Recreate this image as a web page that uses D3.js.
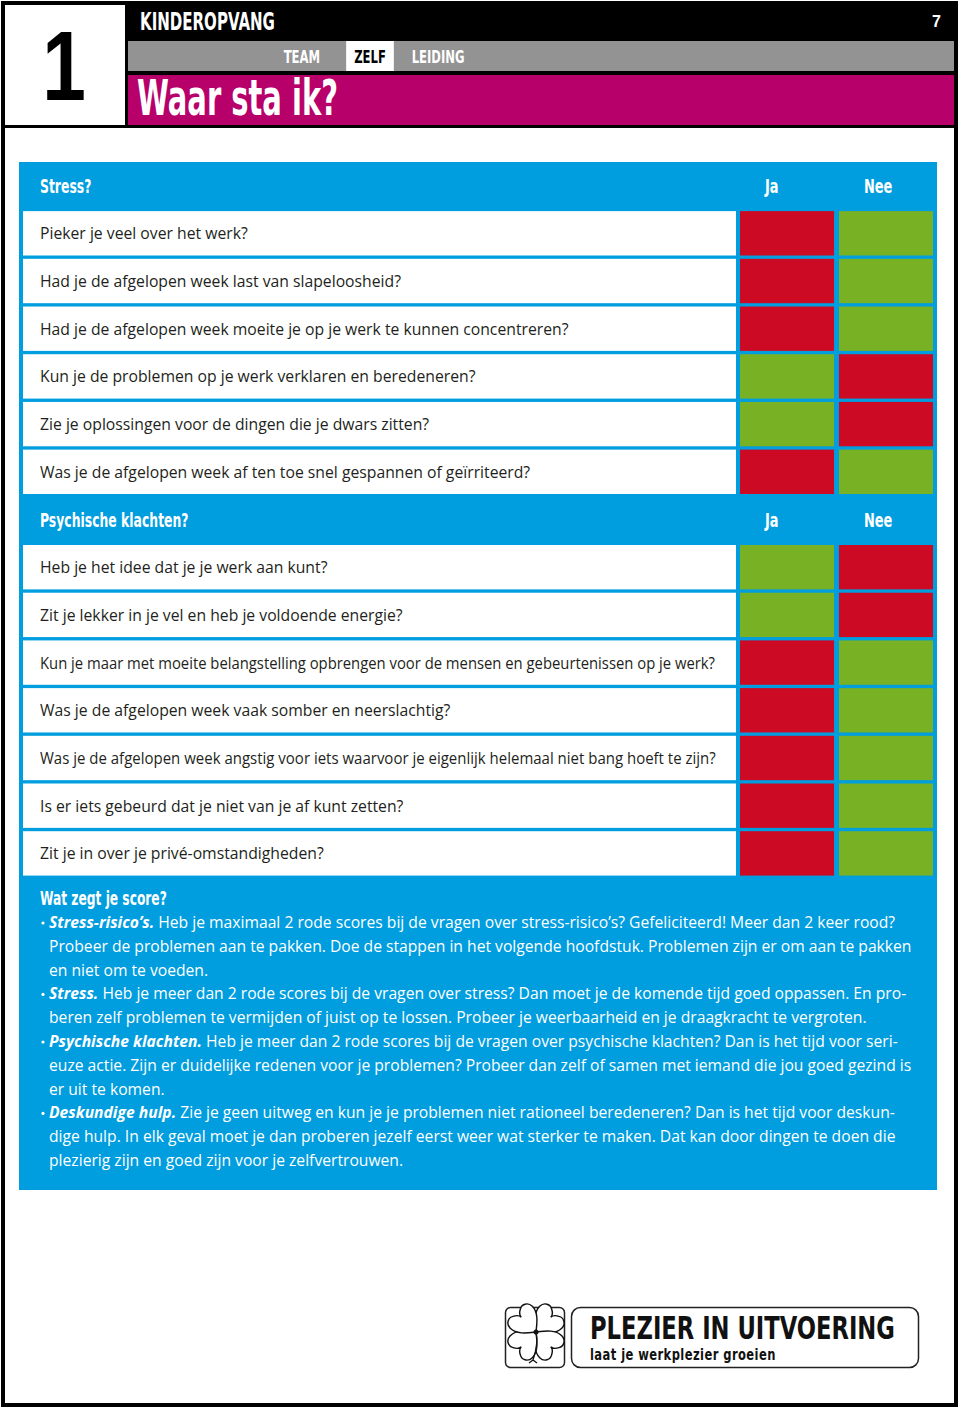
<!DOCTYPE html>
<html>
<head>
<meta charset="utf-8">
<script src="https://cdn.jsdelivr.net/npm/d3@7"></script>
<style>
body { margin: 0; background: #fff; }
svg { display: block; }
</style>
</head>
<body>
<svg id="page" width="960" height="1411"></svg>
<script>
/* global d3 */

// --- data ---
const chapterNumber = '1';
const pageNumber = '7';
const sectorTitle = 'KINDEROPVANG';
const pageTitle = 'Waar sta ik?';
const tabs = ['TEAM', 'ZELF', 'LEIDING'];
const activeTab = 'ZELF';
const answerLabels = ['Ja', 'Nee'];

const stressTitle = 'Stress?';
const stressQuestions = [
	'Pieker je veel over het werk?',
	'Had je de afgelopen week last van slapeloosheid?',
	'Had je de afgelopen week moeite je op je werk te kunnen concentreren?',
	'Kun je de problemen op je werk verklaren en beredeneren?',
	'Zie je oplossingen voor de dingen die je dwars zitten?',
	'Was je de afgelopen week af ten toe snel gespannen of geïrriteerd?',
];
// which answer is the red one
const stressRed = ['Ja', 'Ja', 'Ja', 'Nee', 'Nee', 'Ja'];

const psychTitle = 'Psychische klachten?';
const psychQuestions = [
	'Heb je het idee dat je je werk aan kunt?',
	'Zit je lekker in je vel en heb je voldoende energie?',
	'Kun je maar met moeite belangstelling opbrengen voor de mensen en gebeurtenissen op je werk?',
	'Was je de afgelopen week vaak somber en neerslachtig?',
	'Was je de afgelopen week angstig voor iets waarvoor je eigenlijk helemaal niet bang hoeft te zijn?',
	'Is er iets gebeurd dat je niet van je af kunt zetten?',
	'Zit je in over je privé-omstandigheden?',
];
const psychRed = ['Nee', 'Nee', 'Ja', 'Ja', 'Ja', 'Ja', 'Ja'];

const scoreTitle = 'Wat zegt je score?';
const scoreLines = [
	['Stress-risico’s.', ' Heb je maximaal 2 rode scores bij de vragen over stress-risico’s? Gefeliciteerd! Meer dan 2 keer rood?'],
	['', 'Probeer de problemen aan te pakken. Doe de stappen in het volgende hoofdstuk. Problemen zijn er om aan te pakken'],
	['', 'en niet om te voeden.'],
	['Stress.', ' Heb je meer dan 2 rode scores bij de vragen over stress? Dan moet je de komende tijd goed oppassen. En pro-'],
	['', 'beren zelf problemen te vermijden of juist op te lossen. Probeer je weerbaarheid en je draagkracht te vergroten.'],
	['Psychische klachten.', ' Heb je meer dan 2 rode scores bij de vragen over psychische klachten? Dan is het tijd voor seri-'],
	['', 'euze actie. Zijn er duidelijke redenen voor je problemen? Probeer dan zelf of samen met iemand die jou goed gezind is'],
	['', 'er uit te komen.'],
	['Deskundige hulp.', ' Zie je geen uitweg en kun je je problemen niet rationeel beredeneren? Dan is het tijd voor deskun-'],
	['', 'dige hulp. In elk geval moet je dan proberen jezelf eerst weer wat sterker te maken. Dat kan door dingen te doen die'],
	['', 'plezierig zijn en goed zijn voor je zelfvertrouwen.'],
];

const logoTitle = 'PLEZIER IN UITVOERING';
const logoSub = 'laat je werkplezier groeien';

// --- styles ---
const colors = {
	blue: '#009ddf',
	red: '#cc0a24',
	green: '#78b123',
	magenta: '#b7006a',
	grey: '#939393',
	ink: '#231f20',
};
const condensed = "'Liberation Sans Narrow', 'DejaVu Sans Condensed', 'Arial Narrow', sans-serif";
const bodyFont = "'Open Sans', 'Noto Sans', sans-serif";

const svg = d3.select('#page');

// squeeze a text horizontally to a width (condensed look)
function fit(sel, x, yPos, w) {
	const k = w / sel.node().getComputedTextLength();
	sel.attr('transform', `translate(${x},${yPos}) scale(${k},1)`);
	return sel;
}

// --- page frame + header ---
svg.append('rect')
	.attr('x', 3).attr('y', 3)
	.attr('width', 953).attr('height', 1402)
	.attr('fill', '#fff')
	.attr('stroke', '#000')
	.attr('stroke-width', 4);

svg.append('rect')
	.attr('x', 1).attr('y', 2)
	.attr('width', 957).attr('height', 126)
	.attr('fill', '#000');

svg.append('rect')
	.attr('x', 5).attr('y', 5)
	.attr('width', 120).attr('height', 120)
	.attr('fill', '#fff');

svg.append('text')
	.attr('font-family', "'Liberation Sans', Arial, sans-serif")
	.attr('font-weight', 'bold')
	.attr('font-size', 98)
	.attr('fill', '#000')
	.attr('text-anchor', 'middle')
	.attr('transform', 'translate(64,100) scale(0.8,1)')
	.text(chapterNumber);

fit(svg.append('text')
	.attr('font-family', condensed)
	.attr('font-weight', 'bold')
	.attr('font-size', 25)
	.attr('fill', '#fff')
	.text(sectorTitle), 140, 30, 135);

svg.append('text')
	.attr('x', 941).attr('y', 27)
	.attr('text-anchor', 'end')
	.attr('font-family', "'Liberation Sans', Arial, sans-serif")
	.attr('font-weight', 'bold')
	.attr('font-size', 16)
	.attr('fill', '#fff')
	.text(pageNumber);

svg.append('rect')
	.attr('x', 128).attr('y', 41)
	.attr('width', 826).attr('height', 30)
	.attr('fill', colors.grey);

const tabX = d3.scaleBand()
	.domain(tabs)
	.range([278, 462])
	.paddingInner(0.3);

const tab = svg.selectAll('.tab')
	.data(tabs)
	.enter().append('g')
	.attr('class', 'tab');

tab.filter(d => d === activeTab).append('rect')
	.attr('x', d => tabX(d))
	.attr('y', 41)
	.attr('width', tabX.bandwidth())
	.attr('height', 30)
	.attr('fill', '#fff');

tab.append('text')
	.attr('text-anchor', 'middle')
	.attr('font-family', condensed)
	.attr('font-weight', 'bold')
	.attr('font-size', 17)
	.attr('fill', d => d === activeTab ? '#000' : '#fff')
	.attr('transform', d => `translate(${tabX(d) + tabX.bandwidth() / 2},62.5) scale(0.76,1)`)
	.text(d => d);

svg.append('rect')
	.attr('x', 128).attr('y', 75)
	.attr('width', 826).attr('height', 50)
	.attr('fill', colors.magenta);

fit(svg.append('text')
	.attr('font-family', condensed)
	.attr('font-weight', 'bold')
	.attr('font-size', 49)
	.attr('fill', '#fff')
	.text(pageTitle), 137, 115, 201);

// --- question table ---
const slots = [];
slots.push({type: 'head', label: stressTitle});
stressQuestions.forEach((q, i) => slots.push({type: 'row', label: q, red: stressRed[i]}));
slots.push({type: 'head', label: psychTitle});
psychQuestions.forEach((q, i) => slots.push({type: 'row', label: q, red: psychRed[i]}));

const panel = {x: 19, y: 162, width: 918, height: 1028};

svg.append('rect')
	.attr('x', panel.x).attr('y', panel.y)
	.attr('width', panel.width).attr('height', panel.height)
	.attr('fill', colors.blue);

const y = d3.scaleBand()
	.domain(d3.range(slots.length))
	.range([162, 877])
	.paddingInner(0.07)
	.paddingOuter(0.03);

const col = d3.scaleBand()
	.domain(answerLabels)
	.range([740, 933])
	.paddingInner(0.05);

const slot = svg.selectAll('.slot')
	.data(slots)
	.enter().append('g')
	.attr('class', 'slot')
	.attr('transform', (d, i) => `translate(0,${y(i)})`);

const rows = slot.filter(d => d.type === 'row');
const heads = slot.filter(d => d.type === 'head');

rows.append('rect')
	.attr('x', 23)
	.attr('width', 713)
	.attr('height', y.bandwidth())
	.attr('fill', '#fff');

rows.selectAll('.cell')
	.data(d => answerLabels.map(a => ({answer: a, red: d.red === a})))
	.enter().append('rect')
	.attr('class', 'cell')
	.attr('x', d => col(d.answer))
	.attr('width', col.bandwidth())
	.attr('height', y.bandwidth())
	.attr('fill', d => d.red ? colors.red : colors.green);

const qText = rows.append('text')
	.attr('font-family', bodyFont)
	.attr('font-size', 16)
	.attr('fill', colors.ink)
	.text(d => d.label);

// compress questions to the narrow look of the original
const refQ = qText.filter(d => d.label === stressQuestions[2]).node().getComputedTextLength();
const kq = 529 / refQ;
qText.attr('transform', function() {
	const w = this.getComputedTextLength() * kq;
	const k = w > 676 ? 676 / this.getComputedTextLength() : kq;
	return `translate(40,${y.bandwidth() / 2 + 6}) scale(${k},1)`;
});

heads.append('text')
	.attr('font-family', condensed)
	.attr('font-weight', 'bold')
	.attr('font-size', 20)
	.attr('fill', '#fff')
	.attr('transform', `translate(40,${y.bandwidth() / 2 + 7}) scale(0.69,1)`)
	.text(d => d.label);

heads.selectAll('.answer')
	.data(answerLabels)
	.enter().append('text')
	.attr('class', 'answer')
	.attr('font-family', condensed)
	.attr('font-weight', 'bold')
	.attr('font-size', 20)
	.attr('fill', '#fff')
	.attr('transform', d => `translate(${col(d) + 25},${y.bandwidth() / 2 + 7}) scale(0.72,1)`)
	.text(d => d);

// --- score explanation ---
svg.append('text')
	.attr('font-family', condensed)
	.attr('font-weight', 'bold')
	.attr('font-size', 20)
	.attr('fill', '#fff')
	.attr('transform', 'translate(40,905) scale(0.68,1)')
	.text(scoreTitle);

const lineY = d3.scalePoint()
	.domain(d3.range(scoreLines.length))
	.range([928, 1166]);

const body = svg.append('g');

const line = body.selectAll('.line')
	.data(scoreLines)
	.enter().append('text')
	.attr('class', 'line')
	.attr('font-family', bodyFont)
	.attr('font-size', 16)
	.attr('fill', '#fff');

line.append('tspan')
	.attr('font-weight', 'bold')
	.attr('font-style', 'italic')
	.text(d => d[0]);
line.append('tspan')
	.text(d => d[1]);

const refLine = line.filter((d, i) => i === 1).node().getComputedTextLength();
const kb = 863 / refLine;
line.attr('transform', (d, i) => `translate(49,${lineY(i)}) scale(${kb},1)`);

body.selectAll('.bullet')
	.data(scoreLines.map((d, i) => ({lead: d[0], i})).filter(d => d.lead))
	.enter().append('circle')
	.attr('class', 'bullet')
	.attr('cx', 43)
	.attr('cy', d => lineY(d.i) - 5)
	.attr('r', 1.6)
	.attr('fill', '#fff');

// --- logo ---
const logo = svg.append('g');

logo.append('rect')
	.attr('x', 505.5).attr('y', 1307.5)
	.attr('width', 59).attr('height', 60)
	.attr('rx', 5)
	.attr('fill', '#fff')
	.attr('stroke', '#222')
	.attr('stroke-width', 1.5);

logo.append('rect')
	.attr('x', 571.5).attr('y', 1307.5)
	.attr('width', 347).attr('height', 60)
	.attr('rx', 9)
	.attr('fill', '#fff')
	.attr('stroke', '#222')
	.attr('stroke-width', 1.5);

const leaf = 'M0,0 C-5,-4 -12,-9 -12,-16 C-12,-21 -7,-23 -4,-21 C-2,-20 0,-18 0,-16 C0,-18 2,-20 4,-21 C7,-23 12,-21 12,-16 C12,-9 5,-4 0,0Z';
const clover = logo.append('g').attr('transform', 'translate(536,1332)');
clover.selectAll('.leaf')
	.data([45, 135, 225, 315])
	.enter().append('path')
	.attr('class', 'leaf')
	.attr('d', leaf)
	.attr('transform', d => `rotate(${d}) scale(1.3)`)
	.attr('fill', '#fff')
	.attr('stroke', '#111')
	.attr('stroke-width', 1.1);
clover.append('path')
	.attr('d', 'M0,0 C2,8 1,16 -3,28 M-3,28 L-7,31 M-3,28 L1,31')
	.attr('fill', 'none')
	.attr('stroke', '#111')
	.attr('stroke-width', 1.3);
clover.append('circle')
	.attr('r', 2.5)
	.attr('fill', '#111');

fit(logo.append('text')
	.attr('font-family', condensed)
	.attr('font-weight', 'bold')
	.attr('font-size', 32)
	.attr('fill', '#111')
	.text(logoTitle), 590, 1339, 305);

fit(logo.append('text')
	.attr('font-family', "'DejaVu Sans Condensed', 'Liberation Sans Narrow', sans-serif")
	.attr('font-weight', 'bold')
	.attr('font-size', 15)
	.attr('letter-spacing', 0.5)
	.attr('fill', '#111')
	.text(logoSub), 590, 1360, 186);
</script>
</body>
</html>
